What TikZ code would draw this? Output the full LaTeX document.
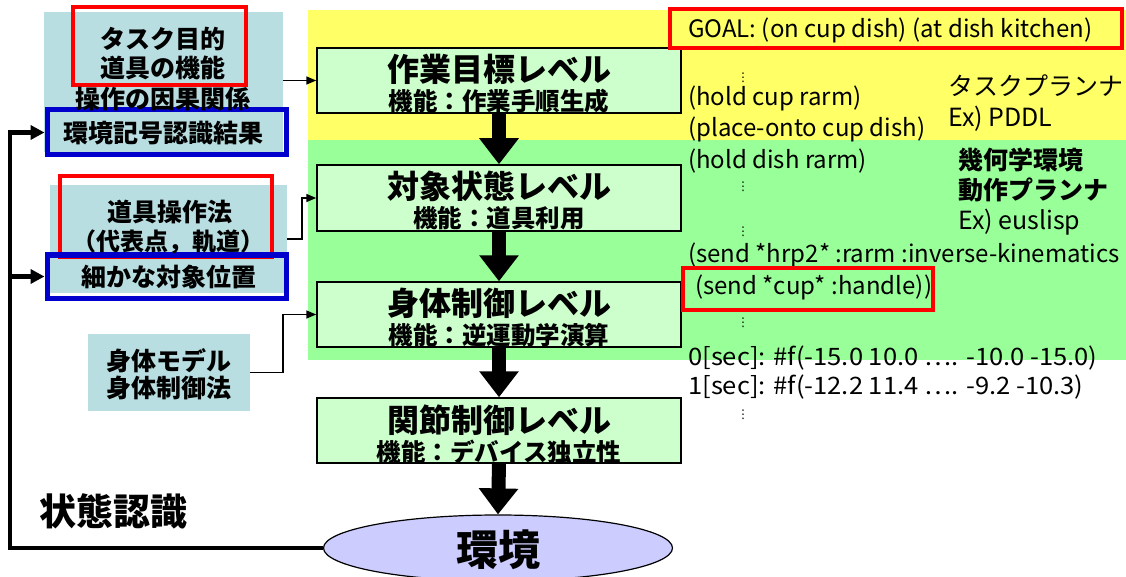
\documentclass[tikz,border=0pt]{standalone}
\usepackage{fontspec}
\setmainfont{Noto Sans CJK JP}
\newfontfamily\dvfont{DejaVu Sans}
\usetikzlibrary{arrows.meta,shapes.geometric}
\definecolor{bandyellow}{HTML}{FFFF66}
\definecolor{bandgreen}{HTML}{99FF99}
\definecolor{lvlgreen}{HTML}{CCFFCC}
\definecolor{lblue}{HTML}{B9DEE1}
\definecolor{envblue}{HTML}{CCCCFF}
\definecolor{mred}{HTML}{FF0000}
\definecolor{mblue}{HTML}{0000CC}
\begin{document}
\begin{tikzpicture}[x=1pt,y=-1pt,
  lvl/.style={draw=black, line width=1.5pt, fill=lvlgreen, rectangle, inner sep=0pt, minimum width=364pt},
  lbox/.style={fill=lblue, rectangle, inner sep=0pt},
  redr/.style={draw=mred, line width=4pt, rectangle, inner sep=0pt},
  bluer/.style={draw=mblue, line width=5pt, rectangle, inner sep=0pt},
  ttl/.style={font=\fontsize{32}{34}\selectfont\bfseries, inner sep=0pt},
  subt/.style={font=\fontsize{24.5}{26}\selectfont\bfseries, inner sep=0pt},
  ltxt/.style={font=\fontsize{25}{27}\selectfont\bfseries, inner sep=0pt},
  code/.style={font=\fontsize{24}{26}\selectfont, inner sep=0pt, anchor=west},
  rtxt/.style={font=\fontsize{25}{27}\selectfont, inner sep=0pt, anchor=west},
  dots/.style={font=\dvfont\fontsize{12}{12}\selectfont, inner sep=0pt},
  big/.style={line width=14pt, -{Triangle[length=26pt,width=38pt]}},
  thinar/.style={line width=1.5pt, -{Triangle[length=10pt,width=8pt]}},
  fb/.style={line width=4.5pt, -{Triangle[length=14pt,width=14pt]}}
]
\useasboundingbox (0,0) rectangle (1126,577);
% bands
\fill[bandyellow] (308,10) rectangle (1126,140);
\fill[bandgreen] (308,140) rectangle (1126,360);

% level boxes
\node[lvl, minimum height=65pt] (L1) at (499,80.5) {};
\node[lvl, minimum height=66pt] (L2) at (499,198) {};
\node[lvl, minimum height=65pt] (L3) at (499,314.5) {};
\node[lvl, minimum height=65pt] (L4) at (499,430.5) {};
\node[ellipse, draw=black, line width=1.2pt, fill=envblue, minimum width=349pt, minimum height=66pt, inner sep=0pt] (env) at (498,548) {};

\node[ttl] (t1) at (499,69) {作業目標レベル};
\node[subt] (s1) at (499,101) {機能：作業手順生成};
\node[ttl] (t2) at (499,186) {対象状態レベル};
\node[subt] (s2) at (499,218) {機能：道具利用};
\node[ttl] (t3) at (499,303) {身体制御レベル};
\node[subt] (s3) at (499,335) {機能：逆運動学演算};
\node[ttl] (t4) at (499,420) {関節制御レベル};
\node[subt] (s4) at (499,452) {機能：デバイス独立性};
\node[font=\fontsize{42}{44}\selectfont\bfseries, inner sep=0pt] (envt) at (498,550) {環境};

\draw[big] (L1.south) -- (L2.north);
\draw[big] (L2.south) -- (L3.north);
\draw[big] (L3.south) -- (L4.north);
\draw[big] (L4.south) -- (env.north);

% left boxes
\node[lbox, minimum width=239pt, minimum height=140pt] (A) at (163.5,82) {};
\node[redr, minimum width=173pt, minimum height=78pt] (RA) at (159.5,46) {};
\node[bluer, minimum width=239pt, minimum height=45pt] (BA) at (166.5,132.5) {};
\node[ltxt] (a1) at (163,39) {タスク目的};
\node[ltxt] (a2) at (163,68) {道具の機能};
\node[ltxt] (a3) at (163,99) {操作の因果関係};
\node[ltxt] (a4) at (163,133) {環境記号認識結果};

\node[lbox, minimum width=237pt, minimum height=108pt] (B) at (168.5,239) {};
\node[redr, minimum width=212pt, minimum height=81pt] (RB) at (166,216.5) {};
\node[bluer, minimum width=239pt, minimum height=43pt] (BB) at (166.5,276.5) {};
\node[ltxt] (b1) at (170,212) {道具操作法};
\node[ltxt, font=\fontsize{24}{26}\selectfont\bfseries] (b2) at (168,242) {（代表点，軌道）};
\node[ltxt] (b3) at (169,277) {細かな対象位置};

\node[lbox, minimum width=162pt, minimum height=77pt] (C) at (169,372.5) {};
\node[ltxt] (c1) at (169,361) {身体モデル};
\node[ltxt] (c2) at (169,388) {身体制御法};

% thin connectors
\draw[thinar] (A.east |- L1.west) -- (L1.west);
\draw[thinar] (B.east) -- ++(15,0) |- (L2.west);
\draw[thinar] (C.east) -- ++(33,0) |- (L3.west);

% feedback
\coordinate (fbc) at (10,548);
\draw[fb] (env.west) -- (fbc) |- (BA.west);
\draw[fb] (fbc |- BB.west) -- (BB.west);
\node[font=\fontsize{37}{39}\selectfont\bfseries, inner sep=0pt] (st) at (113,511) {状態認識};

% right text
\node[redr, minimum width=452pt, minimum height=39pt] (RG) at (896,28.5) {};
\node[code] (g) at (688,30) {GOAL: (on cup dish) (at dish kitchen)};
\node[dots] (d1) at (743,78) {⋮};
\node[code] (h1) at (688,98) {(hold cup rarm)};
\node[code] (h2) at (688,129) {(place-onto cup dish)};
\node[code] (h3) at (688,161) {(hold dish rarm)};
\node[dots] (d2) at (743,187) {⋮};
\node[dots] (d3) at (743,232) {⋮};
\node[code] (h4) at (688,255) {(send *hrp2* :rarm :inverse-kinematics};
\node[redr, minimum width=250pt, minimum height=42pt] (RH) at (808,288.5) {};
\node[code] (h5) at (695,287) {(send *cup* :handle))};
\node[dots] (d4) at (743,323) {⋮};
\node[code] (h6) at (688,358) {\scalebox{1.065}[1]{0[sec]: \#f(-15.0 10.0 …. -10.0 -15.0)}};
\node[code] (h7) at (688,387) {\scalebox{1.065}[1]{1[sec]: \#f(-12.2 11.4 …. -9.2 -10.3)}};
\node[dots] (d5) at (743,415) {⋮};

\node[rtxt] (p1) at (948,86) {タスクプランナ};
\node[rtxt] (p2) at (948,119) {Ex) PDDL};
\node[rtxt, font=\fontsize{25}{27}\selectfont\bfseries] (p3) at (958,160) {幾何学環境};
\node[rtxt, font=\fontsize{25}{27}\selectfont\bfseries] (p4) at (958,190) {動作プランナ};
\node[rtxt] (p5) at (958,222) {Ex) euslisp};
\end{tikzpicture}
\end{document}
